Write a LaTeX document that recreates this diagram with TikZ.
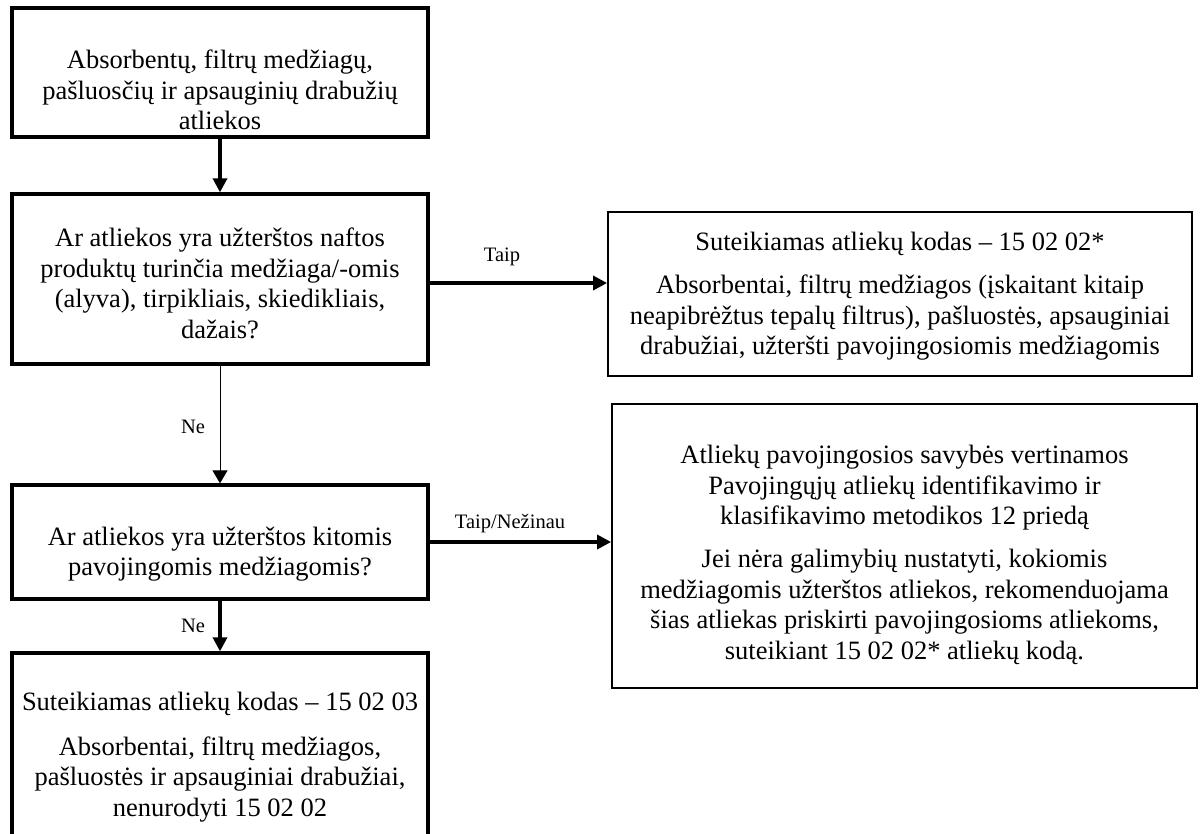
\documentclass[tikz,border=0pt]{standalone}
\usepackage{fontspec}
\setmainfont{Liberation Serif}
\usetikzlibrary{arrows.meta}

\begin{document}
\begin{tikzpicture}[x=1pt,y=-1pt,
  lbox/.style={draw, line width=3.3pt, inner sep=0pt},
  rbox/.style={draw, line width=1.8pt, inner sep=0pt},
  txt/.style={align=center, anchor=north, inner sep=0pt, font=\fontsize{26.5}{30.5}\selectfont},
  lbl/.style={anchor=base, inner sep=0pt, font=\fontsize{20.5}{24}\selectfont},
  thk/.style={line width=3.3pt, -{Triangle[length=14pt,width=14pt]}},
  thn/.style={line width=1pt, -{Triangle[length=13pt,width=15pt]}}]
\path[use as bounding box, fill=white] (0,0) rectangle (1204,833);
% left column
\node[lbox, minimum width=416pt, minimum height=129pt] (start) at (220,72.5) {};
\node[lbox, minimum width=416pt, minimum height=170pt] (q1) at (220,279) {};
\node[lbox, minimum width=416pt, minimum height=114pt] (q2) at (220,542) {};
\node[lbox, minimum width=416pt, minimum height=187pt] (res) at (220,746.5) {};
% right column
\node[rbox, minimum width=584pt, minimum height=164pt] (haz) at (900,294) {};
\node[rbox, minimum width=585pt, minimum height=284pt] (unk) at (904.5,546) {};

\node[txt] (start-t) at (220,50) {Absorbentų, filtrų medžiagų,\\ pašluosčių ir apsauginių drabužių\\ atliekos};
\node[txt] (q1-t) at (220,228) {Ar atliekos yra užterštos naftos\\ produktų turinčia medžiaga/-omis\\ (alyva), tirpikliais, skiedikliais,\\ dažais?};
\node[txt] (q2-t) at (220,526.5) {Ar atliekos yra užterštos kitomis\\ pavojingomis medžiagomis?};
\node[txt] (res-t) at (220,692) {Suteikiamas atliekų kodas – 15 02 03\\[14pt] Absorbentai, filtrų medžiagos,\\ pašluostės ir apsauginiai drabužiai,\\ nenurodyti 15 02 02};
\node[txt] (haz-t) at (900,232) {Suteikiamas atliekų kodas – 15 02 02*\\[12.5pt] Absorbentai, filtrų medžiagos (įskaitant kitaip\\ neapibrėžtus tepalų filtrus), pašluostės, apsauginiai\\ drabužiai, užteršti pavojingosiomis medžiagomis};
\node[txt] (unk-t) at (904.5,445) {Atliekų pavojingosios savybės vertinamos\\ Pavojingųjų atliekų identifikavimo ir\\ klasifikavimo metodikos 12 priedą\\[12.5pt] Jei nėra galimybių nustatyti, kokiomis\\ medžiagomis užterštos atliekos, rekomenduojama\\ šias atliekas priskirti pavojingosioms atliekoms,\\ suteikiant 15 02 02* atliekų kodą.};

% connectors
\draw[thk] (start) -- (q1);
\draw[thn] (q1) -- (q2);
\draw[thk] (q2) -- (res);
\draw[thk] ([yshift=-4pt]q1.east) -- ([yshift=-4pt]q1.east -| haz.west);
\draw[thk] (q2.east) -- (q2.east -| unk.west);

\node[lbl] (taip) at (502,261) {Taip};
\node[lbl] (taip-nez) at (510,528) {Taip/Nežinau};
\node[lbl] (ne-a) at (193,433) {Ne};
\node[lbl] (ne-b) at (193,632) {Ne};
\end{tikzpicture}
\end{document}
